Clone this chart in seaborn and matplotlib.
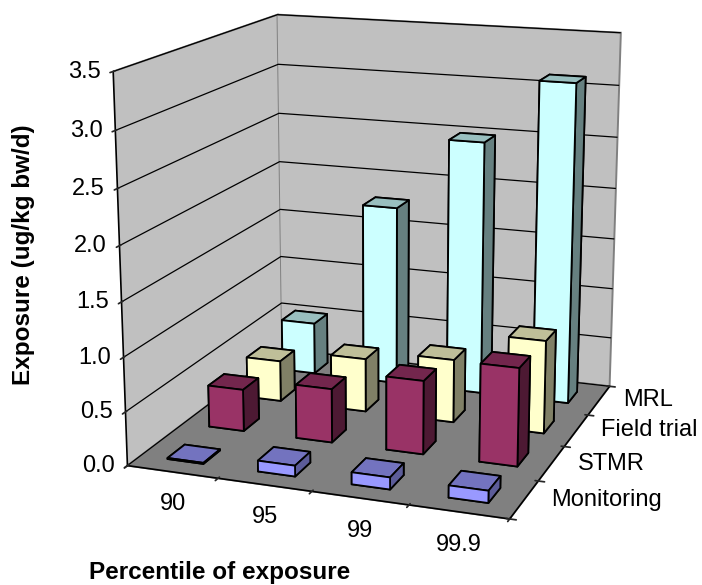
import numpy as np
import matplotlib
matplotlib.use("Agg")
import matplotlib.pyplot as plt
import seaborn as sns

sns.set_theme(style="white")
plt.rcParams['font.family'] = ['Liberation Sans', 'DejaVu Sans']

percentiles = ["90", "95", "99", "99.9"]
series = ["Monitoring", "STMR", "Field trial", "MRL"]
monitoring = [0.01, 0.10, 0.11, 0.11]
stmr = [0.40, 0.51, 0.69, 0.91]
field_trial = [0.40, 0.52, 0.61, 0.89]
mrl = [0.52, 1.78, 2.49, 3.11]
values = [monitoring, stmr, field_trial, mrl]
y_ticks = [0.0, 0.5, 1.0, 1.5, 2.0, 2.5, 3.0, 3.5]

front = ["#9999ff", "#993366", "#ffffcc", "#ccffff"]
top = ["#7373bf", "#73264d", "#bfbf99", "#99bfbf"]
side = ["#5c5c99", "#4d1933", "#808066", "#668080"]

fig = plt.figure(figsize=(7.02, 5.85), dpi=100)
ax = fig.add_axes([49.3 / 702, 10.0 / 585, 648.3 / 702, 648.3 / 585], projection="3d")
ax.view_init(elev=14.873, azim=-70.135)
ax.set_proj_type("persp", focal_length=0.552)
ax.set_box_aspect((0.997, 1.004, 1.0))
ax.patch.set_alpha(0)

w = 0.4
for j, vals in enumerate(values):
    for i, v in enumerate(vals):
        cols = [top[j], top[j], front[j], front[j], side[j], side[j]]
        ax.bar3d(i + 0.5 - w / 2, j + 0.5 - w / 2, 0, w, w, v, color=cols, shade=False,
                 edgecolor="black", linewidth=1.3)

ax.set_xlim(0, 4); ax.set_ylim(0, 4); ax.set_zlim(0, 3.5)
ax.set_xticks(range(5)); ax.set_xticklabels([])
ax.set_yticks(range(5)); ax.set_yticklabels([])
ax.set_zticks(y_ticks); ax.set_zticklabels([])
ax.zaxis.set_ticks_position("lower")
ax.xaxis._axinfo["grid"]["linewidth"] = 0
ax.yaxis._axinfo["grid"]["linewidth"] = 0
ax.zaxis._axinfo["grid"].update(color="black", linewidth=0.9)
ax.xaxis.set_pane_color("#c0c0c0")
ax.yaxis.set_pane_color("#c0c0c0")
ax.zaxis.set_pane_color("#808080")
for a in (ax.xaxis, ax.yaxis, ax.zaxis):
    a.pane.set_edgecolor("#808080")
    a.pane.set_linewidth(1.4)
    a.line.set_color("black")
    a.line.set_linewidth(1.2)
    for tick in a.get_major_ticks():
        tick.label1.set_visible(False)
        tick.label2.set_visible(False)
for t in y_ticks:
    ax.text(-0.11, -0.05, t, f"{t:.1f}", fontsize=17, ha="right", va="center", color="black")
for i, lab in enumerate(percentiles):
    ax.text(i + 0.5, 0, -0.30, lab, fontsize=17, ha="center", va="center", color="black")
for j, lab in enumerate(series):
    ax.text(4.27, j + 0.5, 0.03, lab, fontsize=17, ha="left", va="center", color="black")
fig.text(0.313, 0.022, "Percentile of exposure", fontsize=17.5, fontweight="bold", ha="center", va="center", color="black")
fig.text(0.034, 0.564, "Exposure (ug/kg bw/d)", fontsize=17.5, fontweight="bold", rotation=90, ha="center", va="center", color="black")
fig.savefig("out.png", dpi=100, facecolor="white")
